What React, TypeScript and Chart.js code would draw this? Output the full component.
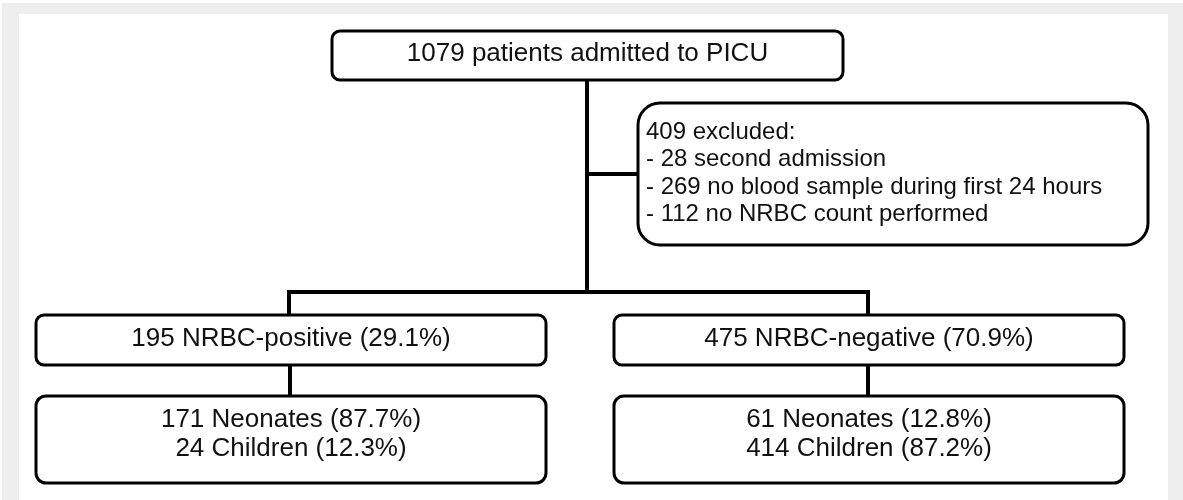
import React, { useEffect, useRef } from 'react';
import { Chart, registerables } from 'chart.js';

Chart.register(...registerables);

// ---- data ----
const nodeIds = ['admitted', 'excluded', 'positive', 'negative', 'positiveSplit', 'negativeSplit'];
const admittedLines = ['1079 patients admitted to PICU'];
const excludedLines = [
  '409 excluded:',
  '- 28 second admission',
  '- 269 no blood sample during first 24 hours',
  '- 112 no NRBC count performed',
];
const positiveLines = ['195 NRBC-positive (29.1%)'];
const negativeLines = ['475 NRBC-negative (70.9%)'];
const positiveSplitLines = ['171 Neonates (87.7%)', '24 Children (12.3%)'];
const negativeSplitLines = ['61 Neonates (12.8%)', '414 Children (87.2%)'];
const nodeLines = [admittedLines, excludedLines, positiveLines, negativeLines, positiveSplitLines, negativeSplitLines];

// ---- layout (in axis units, 1 unit = 1 px) ----
// [left, top, right, bottom, cornerRadius]
const boxGeom: number[][] = [
  [332, 31, 843, 80, 8],
  [638, 103, 1148, 245, 22],
  [36, 315, 546, 365, 8],
  [614, 315, 1124, 365, 8],
  [36, 396, 546, 483, 10],
  [614, 396, 1124, 483, 10],
];
// text: [anchorX, firstBaselineY, lineStep, fontSize, align(0=center,1=left)]
const textGeom: number[][] = [
  [587.5, 61, 0, 26, 0],
  [646, 139, 27.3, 24, 1],
  [291, 346, 0, 26, 0],
  [869, 346, 0, 26, 0],
  [291, 427, 29, 26, 0],
  [869, 427, 29, 26, 0],
];
const connectorPaths: { x: number; y: number }[][] = [
  [{ x: 587, y: 80 }, { x: 587, y: 292 }],
  [{ x: 587, y: 174 }, { x: 638, y: 174 }],
  [{ x: 289, y: 315 }, { x: 289, y: 292 }, { x: 868, y: 292 }, { x: 868, y: 315 }],
  [{ x: 290, y: 365 }, { x: 290, y: 396 }],
  [{ x: 868, y: 365 }, { x: 868, y: 396 }],
];

const W = 1183;
const H = 500;

const flowPlugin = {
  id: 'flow',
  beforeDraw(chart: any) {
    const { ctx, scales } = chart;
    const X = (v: number) => scales.x.getPixelForValue(v);
    const Y = (v: number) => scales.y.getPixelForValue(v);
    ctx.save();
    ctx.fillStyle = '#ffffff';
    ctx.fillRect(0, 0, chart.width, chart.height);
    ctx.fillStyle = '#eeeeee';
    ctx.fillRect(X(2), Y(3), X(1183) - X(2), Y(500) - Y(3));
    ctx.fillStyle = '#ffffff';
    ctx.fillRect(X(19), Y(14), X(1168) - X(19), Y(500) - Y(14));
    ctx.restore();
  },
  afterDatasetsDraw(chart: any) {
    const { ctx, scales } = chart;
    const X = (v: number) => scales.x.getPixelForValue(v);
    const Y = (v: number) => scales.y.getPixelForValue(v);
    ctx.save();
    nodeIds.forEach((_, i) => {
      const [l, t, r, b, rad] = boxGeom[i];
      const x0 = X(l), y0 = Y(t), x1 = X(r), y1 = Y(b);
      ctx.beginPath();
      ctx.roundRect(x0, y0, x1 - x0, y1 - y0, rad);
      ctx.fillStyle = '#ffffff';
      ctx.fill();
      ctx.lineWidth = 3;
      ctx.strokeStyle = '#000000';
      ctx.stroke();

      const [ax, by, step, size, align] = textGeom[i];
      ctx.fillStyle = '#111111';
      ctx.font = `${size}px "Liberation Sans", Arial, sans-serif`;
      ctx.textAlign = align === 1 ? 'left' : 'center';
      ctx.textBaseline = 'alphabetic';
      nodeLines[i].forEach((line, k) => {
        ctx.fillText(line, X(ax), Y(by + k * step));
      });
    });
    ctx.restore();
  },
};

export default function App() {
  const canvasRef = useRef<HTMLCanvasElement | null>(null);

  useEffect(() => {
    if (!canvasRef.current) return;
    const chart = new Chart(canvasRef.current, {
      type: 'scatter',
      data: {
        datasets: connectorPaths.map((path) => ({
          data: path,
          showLine: true,
          borderColor: '#000000',
          borderWidth: 4,
          pointRadius: 0,
          borderCapStyle: 'square' as const,
          borderJoinStyle: 'miter' as const,
          tension: 0,
        })),
      },
      options: {
        animation: false,
        responsive: false,
        maintainAspectRatio: false,
        devicePixelRatio: 1,
        layout: { padding: 0 },
        plugins: { legend: { display: false }, tooltip: { enabled: false } },
        scales: {
          x: { type: 'linear', min: 0, max: W, display: false },
          y: { type: 'linear', min: 0, max: H, reverse: true, display: false },
        },
      },
      plugins: [flowPlugin],
    });
    return () => chart.destroy();
  }, []);

  return (
    <div style={{ position: 'fixed', left: 0, top: 0, width: W, height: H }}>
      <canvas ref={canvasRef} width={W} height={H} style={{ width: W, height: H, display: 'block' }} />
    </div>
  );
}
